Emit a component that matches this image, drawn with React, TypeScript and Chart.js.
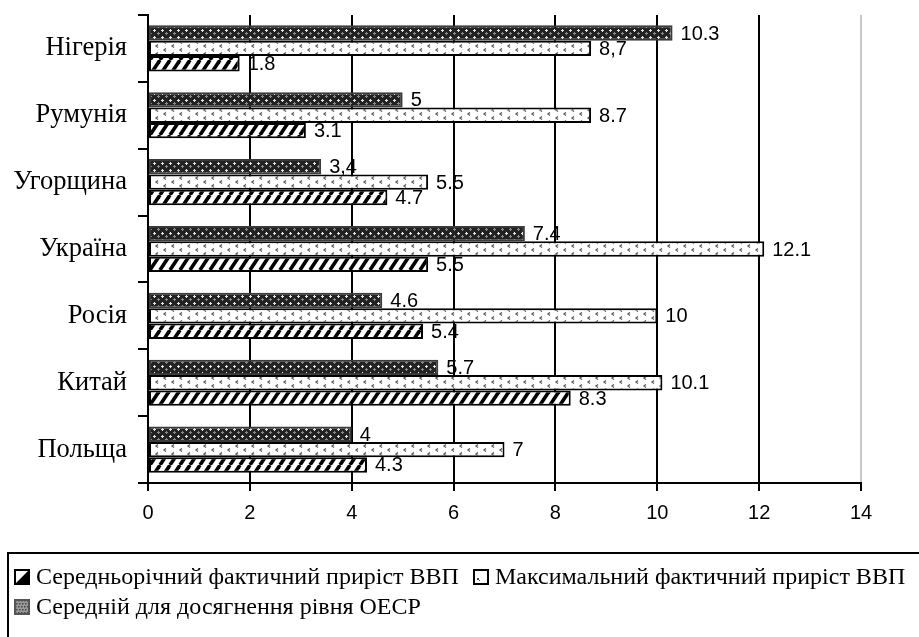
import React, { useEffect, useRef } from "react";
import { Chart, registerables } from "chart.js";

Chart.register(...registerables);

const categories = ["Нігерія", "Румунія", "Угорщина", "Україна", "Росія", "Китай", "Польща"];
const oecdValues = [10.3, 5, 3.4, 7.4, 4.6, 5.7, 4];
const maxValues = [8.7, 8.7, 5.5, 12.1, 10, 10.1, 7];
const avgValues = [1.8, 3.1, 4.7, 5.5, 5.4, 8.3, 4.3];
const oecdLabels = ["10.3", "5", "3,4", "7.4", "4.6", "5.7", "4"];
const maxLabels = ["8,7", "8.7", "5.5", "12.1", "10", "10.1", "7"];
const avgLabels = ["1.8", "3.1", "4.7", "5.5", "5.4", "8.3", "4.3"];
const seriesNames = [
  "Середній для досягнення рівня ОЕСР",
  "Максимальний фактичний приріст ВВП",
  "Середньорічний фактичний приріст ВВП",
];
const xMin = 0;
const xMax = 14;
const xStep = 2;

const SANS = "'Liberation Sans', Arial, sans-serif";
const SERIF = "'Liberation Serif', 'Times New Roman', serif";

function makeTile(w: number, h: number, draw: (c: CanvasRenderingContext2D) => void) {
  const cv = document.createElement("canvas");
  cv.width = w;
  cv.height = h;
  const c = cv.getContext("2d")!;
  draw(c);
  return cv;
}

function makePatterns(ctx: CanvasRenderingContext2D) {
  const hatch = makeTile(10, 15, (c) => {
    c.fillStyle = "#fff";
    c.fillRect(0, 0, 10, 15);
    c.strokeStyle = "#000";
    c.lineWidth = 3.6;
    for (const k of [-10, 0, 10]) {
      c.beginPath();
      c.moveTo(k, 15);
      c.lineTo(k + 10, 0);
      c.stroke();
    }
  });
  const dark = makeTile(8, 7, (c) => {
    c.fillStyle = "#222";
    c.fillRect(0, 0, 8, 7);
    c.fillStyle = "#e6e6e6";
    c.fillRect(2, 1, 1, 3);
    c.fillRect(1, 2, 3, 1);
    c.fillStyle = "#8a8a8a";
    c.fillRect(6, 4, 1, 3);
    c.fillRect(5, 5, 3, 1);
  });
  const dots = makeTile(16, 8, (c) => {
    c.fillStyle = "#fff";
    c.fillRect(0, 0, 16, 8);
    c.strokeStyle = "#555";
    c.lineWidth = 1.3;
    c.beginPath();
    c.moveTo(6, 0.5);
    c.lineTo(4, 2);
    c.lineTo(6, 3.5);
    c.moveTo(14, 4.5);
    c.lineTo(12, 6);
    c.lineTo(14, 7.5);
    c.stroke();
  });
  return {
    hatch: ctx.createPattern(hatch, "repeat")!,
    dark: ctx.createPattern(dark, "repeat")!,
    dots: ctx.createPattern(dots, "repeat")!,
  };
}

export default function App() {
  const ref = useRef<HTMLCanvasElement>(null);

  useEffect(() => {
    const canvas = ref.current!;
    const ctx = canvas.getContext("2d")!;
    const pat = makePatterns(ctx);
    const allLabels = [oecdLabels, maxLabels, avgLabels];

    const labelPlugin = {
      id: "valueLabels",
      afterDatasetsDraw(chart: any) {
        const c = chart.ctx;
        c.save();
        c.font = `20px ${SANS}`;
        c.fillStyle = "#000";
        c.textAlign = "left";
        c.textBaseline = "middle";
        chart.data.datasets.forEach((ds: any, di: number) => {
          const meta = chart.getDatasetMeta(di);
          meta.data.forEach((el: any, i: number) => {
            c.fillText(allLabels[di][i], el.x + 8, el.y + 1);
          });
        });
        c.restore();
      },
    };

    const legendPlugin = {
      id: "boxLegend",
      afterDraw(chart: any) {
        const c = chart.ctx;
        c.save();
        c.lineWidth = 2;
        c.strokeStyle = "#000";
        c.strokeRect(8, 553, 1000, 200);
        const items = [
          { x: 15, y: 577, kind: "hatch", name: seriesNames[2] },
          { x: 474, y: 577, kind: "dots", name: seriesNames[1] },
          { x: 15, y: 607, kind: "dark", name: seriesNames[0] },
        ];
        c.font = `24px ${SERIF}`;
        c.textBaseline = "middle";
        c.textAlign = "left";
        items.forEach((it) => {
          const x0 = it.x;
          const y0 = it.y - 7;
          if (it.kind === "hatch") {
            c.fillStyle = "#fff";
            c.fillRect(x0, y0, 14, 14);
            c.fillStyle = "#000";
            c.beginPath();
            c.moveTo(x0 + 14, y0);
            c.lineTo(x0 + 14, y0 + 14);
            c.lineTo(x0, y0 + 14);
            c.closePath();
            c.fill();
          } else if (it.kind === "dots") {
            c.fillStyle = "#fff";
            c.fillRect(x0, y0, 14, 14);
            c.fillStyle = "#444";
            c.fillRect(x0 + 3, y0 + 8, 2, 2);
            c.fillRect(x0 + 5, y0 + 10, 1, 1);
          } else {
            c.fillStyle = "#9a9a9a";
            c.fillRect(x0, y0, 14, 14);
            c.fillStyle = "#444";
            for (let yy = 0; yy < 14; yy += 3) {
              for (let xx = (yy / 3) % 2 ? 1 : 0; xx < 14; xx += 3) c.fillRect(x0 + xx, y0 + yy, 1.5, 1.5);
            }
          }
          c.lineWidth = 2;
          c.strokeStyle = it.kind === "dark" ? "#555" : "#000";
          c.strokeRect(x0, y0, 14, 14);
          c.fillStyle = "#000";
          c.fillText(it.name, it.x + 21, it.y + 1);
        });
        c.restore();
      },
    };

    const chart = new Chart(canvas, {
      type: "bar",
      data: {
        labels: categories,
        datasets: [
          {
            label: seriesNames[0],
            data: oecdValues,
            backgroundColor: pat.dark,
            borderColor: "#3a3a3a",
            borderWidth: 2,
            borderSkipped: false,
          },
          {
            label: seriesNames[1],
            data: maxValues,
            backgroundColor: pat.dots,
            borderColor: "#000",
            borderWidth: 2,
            borderSkipped: false,
          },
          {
            label: seriesNames[2],
            data: avgValues,
            backgroundColor: pat.hatch,
            borderColor: "#000",
            borderWidth: 2,
            borderSkipped: false,
          },
        ],
      },
      options: {
        indexAxis: "y",
        responsive: false,
        animation: false,
        events: [],
        layout: { padding: { left: 0, top: 15, right: 58, bottom: 114 } },
        datasets: { bar: { categoryPercentage: 0.69, barPercentage: 1 } },
        plugins: { legend: { display: false }, tooltip: { enabled: false } },
        scales: {
          x: {
            min: xMin,
            max: xMax,
            ticks: { stepSize: xStep, color: "#000", font: { family: SANS, size: 20 }, padding: 10 },
            grid: {
              color: (ctx: any) => (ctx.tick && ctx.tick.value === xMax ? "#c8c8c8" : "#000"),
              tickColor: "#000",
              lineWidth: 2,
              tickLength: 8,
            },
            border: { display: true, color: "#000", width: 2 },
            afterFit(scale: any) {
              scale.height = 40;
              scale.paddingLeft = 0;
              scale.paddingRight = 0;
            },
          },
          y: {
            ticks: { color: "#000", font: { family: SERIF, size: 26.5 }, padding: 11 },
            grid: {
              offset: true,
              drawOnChartArea: false,
              drawTicks: true,
              tickLength: 10,
              color: "#000",
              lineWidth: 2,
            },
            border: { display: true, color: "#000", width: 2 },
            afterFit(scale: any) {
              scale.width = 148;
              scale.paddingTop = 0;
              scale.paddingBottom = 0;
            },
          },
        },
      },
      plugins: [labelPlugin, legendPlugin],
    } as any);

    return () => chart.destroy();
  }, []);

  return (
    <canvas
      ref={ref}
      width={919}
      height={637}
      style={{ position: "fixed", left: 0, top: 0, display: "block" }}
    />
  );
}
